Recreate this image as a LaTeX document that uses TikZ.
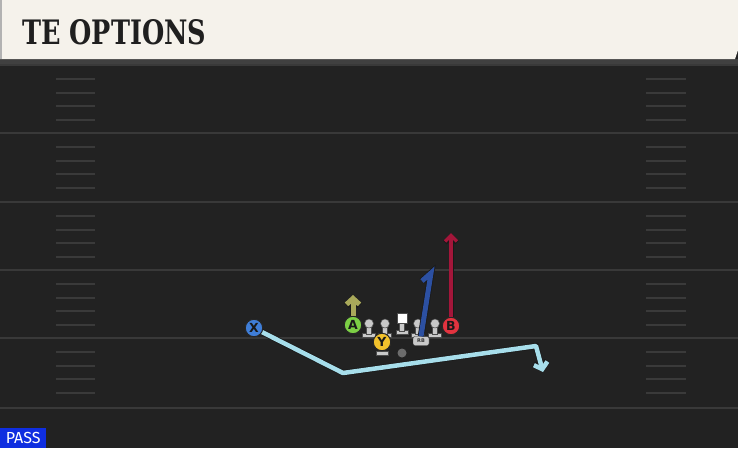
\documentclass[tikz,border=0pt]{standalone}
\usepackage{graphicx}
\usepackage{fontspec}
\setmainfont{DejaVu Sans}
\newfontfamily\titlefont{DejaVu Serif}
\newfontfamily\tagfont{Fira Sans}
\usetikzlibrary{arrows.meta, positioning, shapes.misc}

\definecolor{fieldbg}{HTML}{222222}
\definecolor{yardgray}{HTML}{393939}
\definecolor{hashgray}{HTML}{3A3A3A}
\definecolor{headercream}{HTML}{F5F2EB}
\definecolor{xblue}{HTML}{3F7ED8}
\definecolor{agreen}{HTML}{7CCF45}
\definecolor{bred}{HTML}{E2333F}
\definecolor{yyellow}{HTML}{F3C22C}
\definecolor{aroute}{HTML}{A9A95A}
\definecolor{broute}{HTML}{A3163A}
\definecolor{rbroute}{HTML}{2C50A2}
\definecolor{xroute}{HTML}{A7DEEB}
\definecolor{olgray}{HTML}{C9C9C9}
\definecolor{passblue}{HTML}{0F2EE0}

\tikzset{
  player/.style={circle, draw=black!85, line width=1pt, minimum size=17.5pt, inner sep=0pt,
    font=\bfseries\fontsize{12.5}{12.5}\selectfont, text=black!90},
  yardline/.style={draw=yardgray, line width=2pt},
  hashmark/.style={draw=hashgray, line width=2pt},
  outlined/.style={preaction={draw=black!90, line width=#1}},
  olpart/.style={fill=olgray, draw=black!70, line width=0.5pt},
}

\begin{document}
\begin{tikzpicture}[x=1pt, y=-1pt]
    \useasboundingbox (0,0) rectangle (738,448);
    % Field
    \fill[fieldbg] (0,0) rectangle (738,448);
    \fill[black!75] (0,59) rectangle (738,64);
    \foreach \y in {65,133,202,270,338,408}
        \draw[yardline] (0,\y) -- (738,\y);
    \foreach \y in {65,133,202,270,338} {
        \foreach \d in {14,27.5,41,55} {
            \draw[hashmark] (56,\y+\d) -- (95,\y+\d);
            \draw[hashmark] (646,\y+\d) -- (686,\y+\d);
        }
    }
    
    % Header
    \fill[headercream] (0,0) -- (738,0) -- (738,50) -- (735,59) -- (0,59) -- cycle;
    \fill[black!30] (0,0) rectangle (2,59);
    \node [anchor=west, inner sep=0pt, text=black!88, font=\titlefont\bfseries\fontsize{34}{34}\selectfont] (title) at (22,32.5)
        {\resizebox{184pt}{25pt}{TE OPTIONS}};
    
    % Offensive line
    \foreach \x in {369,385,418,435} {
        \fill[olpart] (\x-6.5,333) rectangle (\x+6.5,337.5);
        \fill[olpart] (\x-2.5,324) rectangle (\x+2.5,334);
        \fill[olpart] (\x,323.5) circle (4.5);
    }
    \fill[olpart] (396,330) rectangle (408,334);
    \fill[olpart] (399.5,322) rectangle (404.5,331);
    \node [draw=black!70, fill=white, line width=0.5pt, minimum size=10pt, inner sep=0pt] (center) at (402,318.5) {};
    \fill[gray!85!black] (402,353) circle (4.5);
    
    % Skill players
    \fill[olpart] (376,351) rectangle (388,355.5);
    \node [player, fill=yyellow] (Y) at (382,342) {Y};
    \node [player, fill=agreen] (A) at (353,325) {A};
    \node [player, fill=bred] (B) at (451,326) {B};
    \node [draw=black!80, fill=olgray, rounded corners=2pt, minimum width=16pt, minimum height=9pt, inner sep=0pt,
        font=\bfseries\fontsize{5}{5}\selectfont, text=black!80] (RB) at (421,341) {RB};
    
    % Route points
    \coordinate (a1) at (353,295);
    \coordinate (b1) at (451,233);
    \coordinate (rb1) at (431,273);
    \coordinate (rb2) at (422,281);
    \coordinate (x1) at (343,373);
    \coordinate (x2) at (536,346);
    \coordinate (x3) at (543,372);
    
    % Routes
    \draw[rbroute, line width=5pt, line join=miter, outlined=6.5pt] (RB.north) -- (rb1) -- (rb2);
    \draw[aroute, line width=5pt, outlined=6.5pt, -{Straight Barb[length=6pt, width=13pt]}] (A.north) -- (a1);
    \draw[broute, line width=3.5pt, outlined=5pt, -{Straight Barb[length=6pt, width=12pt]}] (B.north) -- (b1);
    \draw[xroute, line width=4.5pt, line join=round, outlined=6pt, -{Straight Barb[length=6pt, width=14pt]}] (254,328) -- (x1) -- (x2) -- (x3);
    \node [player, fill=xblue] (X) at (254,328) {X};
    
    % Play tag
    \node [fill=passblue, text=white, anchor=south west, minimum width=46pt, minimum height=20pt, inner sep=0pt,
        font=\tagfont\fontsize{16}{16}\selectfont] (tag) at (0,448) {PASS};
\end{tikzpicture}
\end{document}
